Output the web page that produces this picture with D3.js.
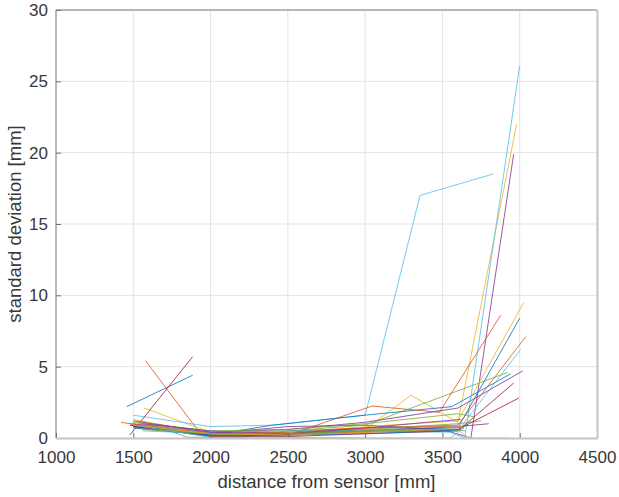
<!DOCTYPE html>
<html>
  <head>
    <title>Std deviation vs distance</title>
    <style>
      body { margin: 0; background: #fff; }
      svg { background-color: #fff; font-family: "Liberation Sans", Arial, sans-serif; }
    </style>
  </head>
  <body>
    <svg id="canvas" width="619" height="497"></svg>
    <script src="https://d3js.org/d3.v7.min.js"></script>
    <script>
      // axis ticks
      var xTicks = [1000, 1500, 2000, 2500, 3000, 3500, 4000, 4500];
      var yTicks = [0, 5, 10, 15, 20, 25, 30];

      // MATLAB default line colours, cycled per series
      var colors = ["#0072BD", "#D95319", "#EDB120", "#7E2F8E", "#77AC30", "#4DBEEE", "#A2142F"];

      var s01 = [[1458, 2.2], [1884, 4.4]];
      var s02 = [[1580, 5.4], [1935, 0.3], [2400, 0.2], [2900, 0.4], [3300, 0.6], [3600, 0.5]];
      var s03 = [[1570, 2.1], [2000, 0.4], [2500, 0.2], [3000, 0.6], [3297, 3.0], [3600, 1.1], [3980, 22.0]];
      var s04 = [[1500, 0.9], [2000, 0.3], [2500, 0.8], [3000, 0.9], [3500, 0.6], [3684, 0.0], [3961, 19.9]];
      var s05 = [[1550, 1.2], [1850, 0.05], [2200, 0.05], [2500, 0.5], [3000, 0.9], [3923, 4.6]];
      var s06 = [[1500, 1.6], [2000, 0.8], [2400, 0.9], [3000, 1.6], [3355, 17.0], [3826, 18.5]];
      var s07 = [[1477, 0.2], [1884, 5.7]];
      var s08 = [[1480, 0.9], [2000, 0.2], [2400, 0.9], [3000, 1.6], [3560, 2.2], [3942, 4.5]];
      var s09 = [[1420, 1.1], [1900, 0.3], [2500, 0.2], [3045, 2.24], [3480, 1.8], [3877, 8.6]];
      var s10 = [[1500, 1.3], [2000, 0.3], [2500, 0.3], [3000, 0.8], [3600, 1.2], [4026, 9.5]];
      var s11 = [[1500, 0.8], [2000, 0.4], [2500, 0.6], [3000, 1.1], [3600, 2.1], [4019, 4.7]];
      var s12 = [[1500, 1.1], [2000, 0.5], [2500, 0.6], [3000, 1.0], [3600, 1.7], [3700, 1.5]];
      var s13 = [[1560, 0.5], [2000, 0.3], [2500, 0.3], [3000, 0.5], [3550, 0.4], [3645, 0.0], [4000, 26.1]];
      var s14 = [[1480, 0.9], [2000, 0.1], [2500, 0.1], [3000, 0.3], [3600, 0.5], [3961, 3.85]];
      var s15 = [[1500, 0.8], [2000, 0.2], [2500, 0.3], [3000, 0.6], [3600, 0.7], [4000, 8.4]];
      var s16 = [[1500, 1.0], [2000, 0.4], [2500, 0.5], [3000, 0.7], [3600, 0.9], [4039, 7.1]];
      var s17 = [[1520, 0.7], [2000, 0.3], [2500, 0.2], [3000, 0.5], [3600, 0.6], [3665, 0.0], [3916, 0.0]];
      var s18 = [[1550, 1.0], [2000, 0.5], [2500, 0.3], [3000, 0.5], [3600, 0.8], [3800, 1.0]];
      var s19 = [[1600, 0.8], [2000, 0.2], [2500, 0.4], [3000, 0.6], [3600, 1.0], [3750, 1.2]];
      var s20 = [[1550, 0.9], [2000, 0.4], [2500, 0.5], [3000, 0.6], [3600, 0.5], [4006, 6.2]];
      var s21 = [[1500, 0.8], [2000, 0.15], [2500, 0.2], [3000, 0.4], [3600, 0.6], [3994, 2.8]];
      var s22 = [[1500, 0.7], [2000, 0.2], [2500, 0.2], [3000, 0.3], [3500, 0.5], [3620, 0.6]];
      var s23 = [[1480, 1.0], [2000, 0.3], [2500, 0.4], [3000, 0.7], [3500, 0.8], [3640, 0.7]];
      var s24 = [[1500, 0.9], [2000, 0.3], [2500, 0.2], [3000, 0.4], [3500, 0.6], [3630, 0.8]];
      var s25 = [[1500, 1.2], [2000, 0.4], [2500, 0.3], [3000, 0.7], [3400, 1.1], [3620, 1.3]];
      var s26 = [[1560, 0.6], [2000, 0.3], [2500, 0.3], [3000, 0.5], [3550, 0.6], [3650, 0.5]];
      var s27 = [[1500, 0.9], [2000, 0.05], [2500, 0.05], [3070, 0.0], [3550, 0.0], [3640, 0.7]];

      var series = [s01, s02, s03, s04, s05, s06, s07, s08, s09, s10, s11, s12, s13, s14,
                    s15, s16, s17, s18, s19, s20, s21, s22, s23, s24, s25, s26, s27];

      const mLeft = 56, mRight = 597, mTop = 10, mBottom = 438;

      var svg = d3.select("#canvas");
      var x = d3.scaleLinear().domain([1000, 4500]).range([mLeft, mRight]);
      var y = d3.scaleLinear().domain([0, 30]).range([mBottom, mTop]);

      // grid
      svg.append("g")
        .selectAll("line")
        .data(xTicks.slice(1, -1))
        .join("line")
        .attr("x1", d => x(d)).attr("x2", d => x(d))
        .attr("y1", mTop).attr("y2", mBottom)
        .attr("stroke", "#e3e3e3").attr("stroke-width", 1);
      svg.append("g")
        .selectAll("line")
        .data(yTicks.slice(1, -1))
        .join("line")
        .attr("x1", mLeft).attr("x2", mRight)
        .attr("y1", d => y(d)).attr("y2", d => y(d))
        .attr("stroke", "#e3e3e3").attr("stroke-width", 1);

      // data lines
      var line = d3.line().x(d => x(d[0])).y(d => y(d[1]));
      svg.append("g")
        .selectAll("path")
        .data(series)
        .join("path")
        .attr("d", line)
        .attr("fill", "none")
        .attr("stroke", (d, i) => colors[i % colors.length])
        .attr("stroke-opacity", 0.8)
        .attr("stroke-width", 1);

      // axes (MATLAB style: ticks inside, box)
      var xAxis = d3.axisBottom(x).tickValues(xTicks).tickSize(-5).tickPadding(13).tickFormat(d3.format("d"));
      var yAxis = d3.axisLeft(y).tickValues(yTicks).tickSize(-5).tickPadding(8).tickFormat(d3.format("d"));

      var gx = svg.append("g").attr("transform", "translate(0," + mBottom + ")").call(xAxis);
      var gy = svg.append("g").attr("transform", "translate(" + mLeft + ",0)").call(yAxis);
      [gx, gy].forEach(g => {
        g.select(".domain").remove();
        g.selectAll(".tick line").attr("stroke", "#707070");
        g.selectAll(".tick text")
          .attr("fill", "#383838")
          .attr("font-size", "17px")
          .attr("font-family", "'Liberation Sans', Arial, sans-serif");
      });

      // box
      svg.append("line").attr("x1", mLeft).attr("x2", mRight).attr("y1", mTop).attr("y2", mTop)
        .attr("stroke", "#707070");
      svg.append("line").attr("x1", mLeft).attr("x2", mLeft).attr("y1", mTop).attr("y2", mBottom)
        .attr("stroke", "#707070");
      svg.append("line").attr("x1", mLeft).attr("x2", mRight + 1).attr("y1", mBottom + 0.5).attr("y2", mBottom + 0.5)
        .attr("stroke", "#c4c4c4").attr("stroke-width", 2);
      svg.append("line").attr("x1", mRight + 0.5).attr("x2", mRight + 0.5).attr("y1", mTop).attr("y2", mBottom)
        .attr("stroke", "#c4c4c4").attr("stroke-width", 2);

      // axis labels
      svg.append("text")
        .attr("x", (mLeft + mRight) / 2)
        .attr("y", 488)
        .attr("text-anchor", "middle")
        .attr("font-size", "18.5px")
        .attr("fill", "#383838")
        .text("distance from sensor [mm]");
      svg.append("text")
        .attr("transform", "translate(21," + (mTop + mBottom) / 2 + ") rotate(-90)")
        .attr("text-anchor", "middle")
        .attr("font-size", "18.5px")
        .attr("fill", "#383838")
        .text("standard deviation [mm]");
    </script>
  </body>
</html>
